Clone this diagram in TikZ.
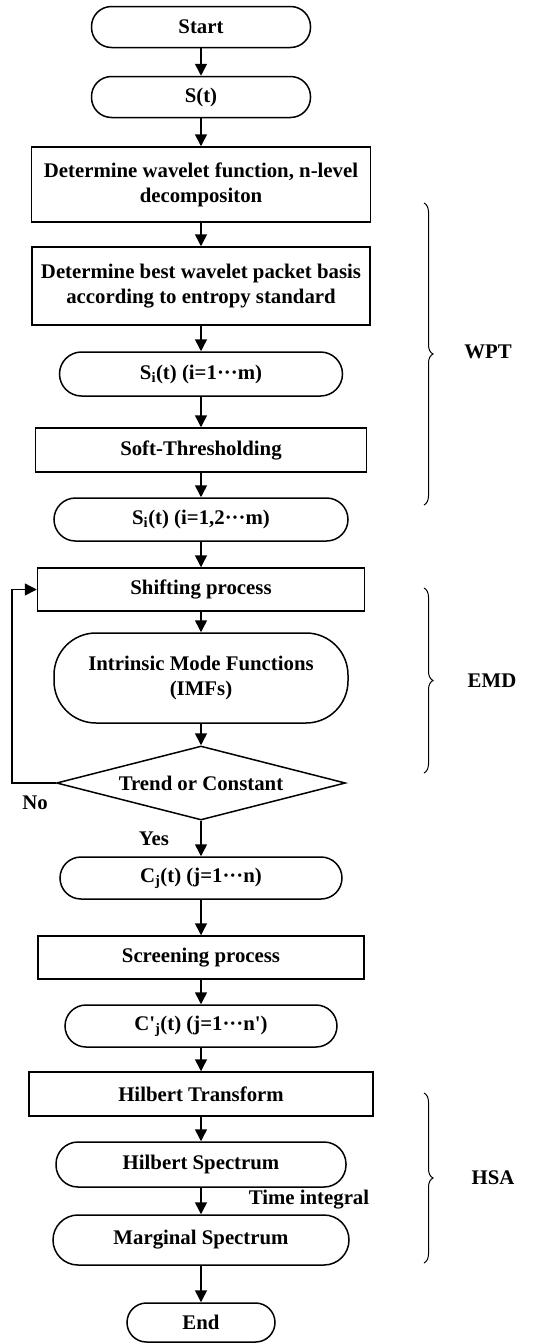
\documentclass[tikz,border=0pt]{standalone}
\usepackage{fontspec}
\setmainfont{Liberation Serif}[Ligatures=TeXOff]
\usetikzlibrary{shapes.geometric,arrows.meta,decorations.pathreplacing}
\begin{document}
\begin{tikzpicture}[x=1pt,y=-1pt,
  every node/.style={font=\fontsize{20.8}{25}\selectfont\bfseries, inner sep=0pt},
  term/.style={draw, line width=1.5pt, align=center},
  proc/.style={draw, line width=1.5pt, align=center},
  dec/.style={draw, line width=1.5pt, shape=diamond, aspect=3.9, minimum width=289pt, minimum height=74pt},
  arr/.style={line width=1.5pt, -{Triangle[length=12pt,width=12pt]}},
  lbl/.style={},
  brc/.style={line width=1pt, decorate, decoration={brace, amplitude=9pt}}
]
\useasboundingbox (0,0) rectangle (547,1344);

\node[term, minimum width=219pt, minimum height=41pt, rounded corners=20pt] (start) at (201,27) {Start};
\node[term, minimum width=219pt, minimum height=41pt, rounded corners=20pt] (st) at (201,97) {S(t)};
\node[proc, minimum width=339pt, minimum height=75pt] (b1) at (201,184.5) {Determine wavelet function, n-level\\decompositon};
\node[proc, minimum width=338pt, minimum height=78pt] (b2) at (201,286) {Determine best wavelet packet basis\\according to entropy standard};
\node[term, minimum width=283pt, minimum height=44pt, rounded corners=22pt] (si1) at (201,374) {S\textsubscript{i}(t) (i=1\textperiodcentered\textperiodcentered\textperiodcentered m)};
\node[proc, minimum width=331pt, minimum height=44pt] (soft) at (201,450) {Soft-Thresholding};
\node[term, minimum width=294pt, minimum height=43pt, rounded corners=21.5pt] (si2) at (201,519.5) {S\textsubscript{i}(t) (i=1,2\textperiodcentered\textperiodcentered\textperiodcentered m)};
\node[proc, minimum width=327pt, minimum height=43pt] (shift) at (201,589.5) {Shifting process};
\node[term, minimum width=294pt, minimum height=90pt, rounded corners=42pt] (imf) at (201,678) {Intrinsic Mode Functions\\(IMFs)};
\node[dec] (trend) at (201,783) {Trend or Constant};
\node[term, minimum width=282pt, minimum height=42pt, rounded corners=21pt] (cj) at (201,878) {C\textsubscript{j}(t) (j=1\textperiodcentered\textperiodcentered\textperiodcentered n)};
\node[proc, minimum width=326pt, minimum height=43pt] (screen) at (201,957.5) {Screening process};
\node[term, minimum width=272pt, minimum height=42pt, rounded corners=21pt] (cpj) at (201,1026) {C'\textsubscript{j}(t) (j=1\textperiodcentered\textperiodcentered\textperiodcentered n')};
\node[proc, minimum width=344pt, minimum height=44pt] (ht) at (201,1094) {Hilbert Transform};
\node[term, minimum width=290pt, minimum height=45pt, rounded corners=22pt] (hs) at (201,1164.5) {Hilbert Spectrum};
\node[term, minimum width=296pt, minimum height=50pt, rounded corners=25pt] (ms) at (201,1240) {Marginal Spectrum};
\node[term, minimum width=148pt, minimum height=39pt, rounded corners=19.5pt] (end) at (201,1322.5) {End};

\draw[arr] (start) -- (st);
\draw[arr] (st) -- (b1);
\draw[arr] (b1) -- (b2);
\draw[arr] (b2) -- (si1);
\draw[arr] (si1) -- (soft);
\draw[arr] (soft) -- (si2);
\draw[arr] (si2) -- (shift);
\draw[arr] (shift) -- (imf);
\draw[arr] (imf) -- (trend);
\draw[arr] (trend) -- (cj);
\draw[arr] (cj) -- (screen);
\draw[arr] (screen) -- (cpj);
\draw[arr] (cpj) -- (ht);
\draw[arr] (ht) -- (hs);
\draw[arr] (hs) -- (ms);
\draw[arr] (ms) -- (end);

\coordinate (lb) at (12,783);
\coordinate (lt) at (12,589.5);
\draw[arr] (trend.west) -- (lb) -- (lt) -- (shift.west);

\node[lbl] (no) at (35,803) {No};
\node[lbl] (yes) at (154,839) {Yes};
\node[lbl] (ti) at (309,1200) {Time integral};

\draw[brc] (424,203) -- (424,505);
\draw[brc] (424,588) -- (424,773);
\draw[brc] (424,1093) -- (424,1263);
\node[lbl] (wpt) at (488,352) {WPT};
\node[lbl] (emd) at (492,681) {EMD};
\node[lbl] (hsa) at (493,1178) {HSA};
\end{tikzpicture}
\end{document}
